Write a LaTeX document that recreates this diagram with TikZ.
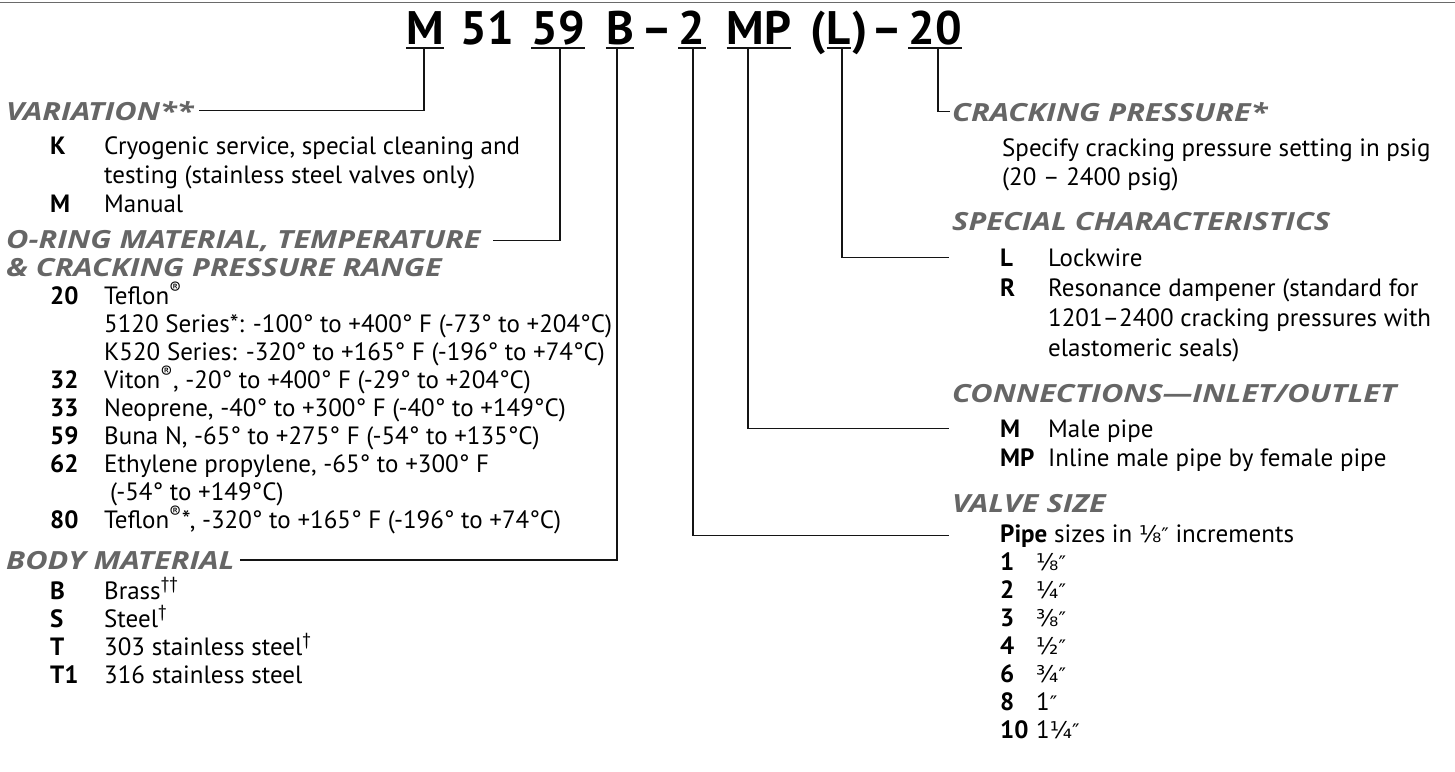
\documentclass[tikz,border=0pt]{standalone}
\usepackage{fontspec}
\setmainfont{PT Sans}
\newfontfamily\hfont{Open Sans}[FakeStretch=1.23]
\newfontfamily\dvfont{DejaVu Sans}
\definecolor{hgray}{HTML}{666666}
\definecolor{lgray}{HTML}{6A6A6A}
\newcommand{\fr}[1]{{\dvfont\fontsize{23}{23}\selectfont #1}}
\newcommand{\dq}{{\dvfont\fontsize{20}{20}\selectfont ″}}
\tikzset{
  hd/.style={anchor=base west, inner sep=0pt, font=\hfont\bfseries\itshape\fontsize{25}{25}\selectfont, text=hgray},
  tx/.style={anchor=base west, inner sep=0pt, font=\fontsize{25}{25}\selectfont},
  ky/.style={anchor=base west, inner sep=0pt, font=\bfseries\fontsize{25}{25}\selectfont},
  ti/.style={anchor=base, inner sep=0pt, font=\bfseries\fontsize{47}{47}\selectfont},
  ln/.style={line width=1.4pt, black!92},
  ul/.style={line width=1.4pt, black!92},
}
\begin{document}
\begin{tikzpicture}[x=1pt,y=-1pt]
\useasboundingbox (0,0) rectangle (1455,771);
\draw[line width=1.6pt, lgray] (0,2.5) -- (1455,2.5);

% title
\node[ti] (tM) at (425,44) {M};
\node[ti] (t51) at (487,44) {51};
\node[ti] (t59) at (558,44) {59};
\node[ti] (tB) at (620,44) {B};
\node[ti] (td1) at (657,44) {–};
\node[ti] (t2) at (692,44) {2};
\node[ti] (tMP) at (759,44) {MP};
\node[ti] (tpo) at (818,44) {(};
\node[ti] (tL) at (839,44) {L};
\node[ti] (tpc) at (860,44) {)};
\node[ti] (td2) at (887,44) {–};
\node[ti] (t20) at (935,44) {20};
\foreach \n in {tM,t59,tB,t2,tMP,tL,t20}
  \draw[ul] ([yshift=-4pt]\n.base west) -- ([yshift=-4pt]\n.base east);

\coordinate (cM) at (424,48);
\coordinate (c59) at (560,48);
\coordinate (cB) at (617,48);
\coordinate (c2) at (693,48);
\coordinate (cMP) at (748,48);
\coordinate (cL) at (842,48);
\coordinate (c20) at (938,48);

% left column
\node[hd] (hVar) at (6,120) {VARIATION**};
\node[ky] (kK) at (50,154) {K};
\node[tx] (xK) at (104,154) {Cryogenic service, special cleaning and};
\node[tx] (xK2) at (104,183) {testing (stainless steel valves only)};
\node[ky] (kM) at (50,212) {M};
\node[tx] (xM) at (104,212) {Manual};
\node[hd] (hOr) at (6,248) {O-RING MATERIAL, TEMPERATURE};
\node[hd] (hOr2) at (6,276) {\& CRACKING PRESSURE RANGE};
\node[ky] (k20) at (50,304) {20};
\node[tx] (x20) at (104,304) {Teflon\textsuperscript{®}};
\node[tx] (x20b) at (104,332) {5120 Series*: -100° to +400° F (-73° to +204°C)};
\node[tx] (x20c) at (104,360) {K520 Series: -320° to +165° F (-196° to +74°C)};
\node[ky] (k32) at (50,388) {32};
\node[tx] (x32) at (104,388) {Viton\textsuperscript{®}, -20° to +400° F (-29° to +204°C)};
\node[ky] (k33) at (50,416) {33};
\node[tx] (x33) at (104,416) {Neoprene, -40° to +300° F (-40° to +149°C)};
\node[ky] (k59) at (50,444) {59};
\node[tx] (x59) at (104,444) {Buna N, -65° to +275° F (-54° to +135°C)};
\node[ky] (k62) at (50,472) {62};
\node[tx] (x62) at (104,472) {Ethylene propylene, -65° to +300° F};
\node[tx] (x62b) at (110,500) {(-54° to +149°C)};
\node[ky] (k80) at (50,528) {80};
\node[tx] (x80) at (104,528) {Teflon\textsuperscript{®}*, -320° to +165° F (-196° to +74°C)};
\node[hd] (hBody) at (6,569) {BODY MATERIAL};
\node[ky] (kB) at (50,599) {B};
\node[tx] (xB) at (104,599) {Brass\textsuperscript{††}};
\node[ky] (kS) at (50,627) {S};
\node[tx] (xS) at (104,627) {Steel\textsuperscript{†}};
\node[ky] (kT) at (50,655) {T};
\node[tx] (xT) at (104,655) {303 stainless steel\textsuperscript{†}};
\node[ky] (kT1) at (50,683) {T1};
\node[tx] (xT1) at (104,683) {316 stainless steel};

% right column
\node[hd] (hCr) at (952,121) {CRACKING PRESSURE*};
\node[tx] (xCr) at (1002,156) {Specify cracking pressure setting in psig};
\node[tx] (xCr2) at (1002,185) {(20 – 2400 psig)};
\node[hd] (hSp) at (952,230) {SPECIAL CHARACTERISTICS};
\node[ky] (kL) at (1000,266) {L};
\node[tx] (xL) at (1048,266) {Lockwire};
\node[ky] (kR) at (1000,296) {R};
\node[tx] (xR) at (1048,296) {Resonance dampener (standard for};
\node[tx] (xR2) at (1048,326) {1201–2400 cracking pressures with};
\node[tx] (xR3) at (1048,356) {elastomeric seals)};
\node[hd] (hCo) at (952,402) {CONNECTIONS—INLET/OUTLET};
\node[ky] (kCM) at (1000,437) {M};
\node[tx] (xCM) at (1048,437) {Male pipe};
\node[ky] (kCMP) at (1000,466) {MP};
\node[tx] (xCMP) at (1048,466) {Inline male pipe by female pipe};
\node[hd] (hVs) at (952,512) {VALVE SIZE};
\node[tx] (xPipe) at (1000,542) {\textbf{Pipe} sizes in \fr{⅛}\dq{} increments};
\node[ky] (k1) at (1000,570) {1};
\node[tx] (x1) at (1036,570) {\fr{⅛}\dq};
\node[ky] (k2) at (1000,598) {2};
\node[tx] (x2) at (1036,598) {\fr{¼}\dq};
\node[ky] (k3) at (1000,626) {3};
\node[tx] (x3) at (1036,626) {\fr{⅜}\dq};
\node[ky] (k4) at (1000,654) {4};
\node[tx] (x4) at (1036,654) {\fr{½}\dq};
\node[ky] (k6) at (1000,682) {6};
\node[tx] (x6) at (1036,682) {\fr{¾}\dq};
\node[ky] (k8) at (1000,710) {8};
\node[tx] (x8) at (1036,710) {1\dq};
\node[ky] (k10) at (1000,738) {10};
\node[tx] (x10) at (1036,738) {1\fr{¼}\dq};

% connectors
\draw[ln] (cM) |- ([xshift=5pt]hVar.east);
\draw[ln] (c59) |- ([xshift=12pt]hOr.east);
\draw[ln] (cB) |- ([xshift=5pt]hBody.east);
\draw[ln] (c20) |- ([xshift=-2pt]hCr.west);
\draw[ln] (cL) |- ([xshift=-51pt]kL.west);
\draw[ln] (cMP) |- ([xshift=-51pt]kCM.west);
\draw[ln] (c2) |- ([xshift=-51pt]xPipe.west);
\end{tikzpicture}
\end{document}
